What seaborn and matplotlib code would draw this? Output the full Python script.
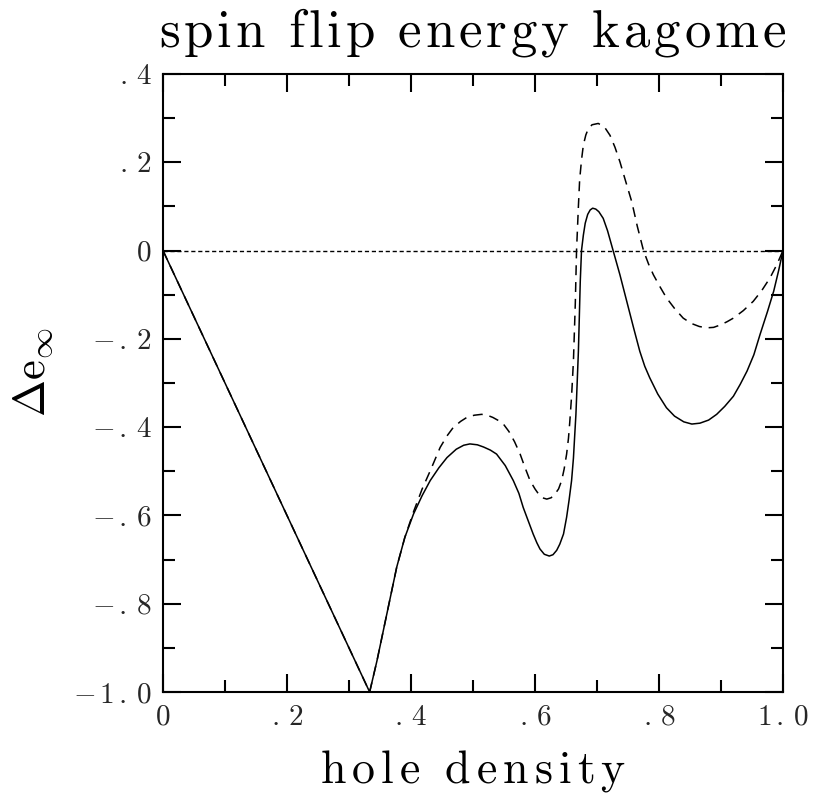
import matplotlib
matplotlib.use("Agg")
import matplotlib.pyplot as plt
import seaborn as sns
import pandas as pd
from matplotlib.ticker import MultipleLocator, FixedLocator

# ---- data ----
solid_x = [0.0, 0.3333, 0.345, 0.360, 0.377, 0.390, 0.404, 0.418, 0.431, 0.445,
           0.458, 0.473, 0.485, 0.495, 0.507, 0.517, 0.528, 0.538, 0.552, 0.565,
           0.574, 0.581, 0.589, 0.597, 0.603, 0.608, 0.615, 0.623, 0.629, 0.635,
           0.640, 0.646, 0.651, 0.655, 0.659, 0.662, 0.664, 0.666, 0.668, 0.670,
           0.6715, 0.673, 0.675, 0.678, 0.681, 0.685, 0.689, 0.693, 0.698, 0.703,
           0.710, 0.717, 0.726, 0.737, 0.748, 0.759, 0.769, 0.777, 0.785, 0.798,
           0.812, 0.825, 0.840, 0.853, 0.866, 0.880, 0.893, 0.906, 0.920, 0.931,
           0.942, 0.953, 0.963, 0.975, 0.985, 0.993, 1.0]
solid_y = [0.0, -1.0, -0.930, -0.830, -0.717, -0.650, -0.597, -0.555, -0.521, -0.492,
           -0.469, -0.450, -0.441, -0.438, -0.440, -0.445, -0.452, -0.461, -0.487, -0.521,
           -0.550, -0.582, -0.612, -0.642, -0.662, -0.676, -0.688, -0.692, -0.689, -0.679,
           -0.665, -0.642, -0.604, -0.565, -0.521, -0.470, -0.420, -0.371, -0.300, -0.228,
           -0.150, -0.070, 0.0, 0.035, 0.062, 0.082, 0.092, 0.096, 0.094, 0.088,
           0.073, 0.045, 0.0, -0.055, -0.115, -0.175, -0.228, -0.262, -0.288, -0.325,
           -0.356, -0.375, -0.388, -0.393, -0.391, -0.384, -0.371, -0.353, -0.330, -0.303,
           -0.273, -0.236, -0.190, -0.138, -0.092, -0.045, 0.0]

dash_x = [0.0, 0.3333, 0.345, 0.360, 0.377, 0.390, 0.404, 0.418, 0.431, 0.447,
          0.458, 0.468, 0.480, 0.490, 0.502, 0.514, 0.523, 0.532, 0.541, 0.549,
          0.558, 0.567, 0.576, 0.584, 0.592, 0.600, 0.606, 0.612, 0.619, 0.626,
          0.632, 0.638, 0.643, 0.647, 0.651, 0.654, 0.656, 0.659, 0.662, 0.665,
          0.667, 0.670, 0.672, 0.675, 0.678, 0.682, 0.686, 0.692, 0.702, 0.712,
          0.721, 0.729, 0.737, 0.746, 0.756, 0.765, 0.775, 0.783, 0.791, 0.802,
          0.812, 0.825, 0.839, 0.852, 0.865, 0.877, 0.888, 0.900, 0.910, 0.920,
          0.936, 0.952, 0.966, 0.979, 0.990, 1.0]
dash_y = [0.0, -1.0, -0.930, -0.830, -0.717, -0.650, -0.592, -0.540, -0.499, -0.446,
          -0.420, -0.401, -0.387, -0.378, -0.373, -0.371, -0.373, -0.378, -0.385, -0.393,
          -0.410, -0.433, -0.461, -0.492, -0.521, -0.540, -0.552, -0.560, -0.563, -0.560,
          -0.552, -0.540, -0.521, -0.495, -0.461, -0.425, -0.390, -0.330, -0.250, -0.120,
          0.0, 0.100, 0.160, 0.205, 0.239, 0.262, 0.276, 0.285, 0.288, 0.280,
          0.261, 0.234, 0.201, 0.158, 0.111, 0.055, 0.0, -0.030, -0.055, -0.083,
          -0.107, -0.131, -0.153, -0.165, -0.172, -0.175, -0.174, -0.168, -0.161, -0.153,
          -0.136, -0.115, -0.090, -0.062, -0.032, 0.0]

x_ticks = [0.0, 0.2, 0.4, 0.6, 0.8, 1.0]
x_tick_labels = ["0", ".2", ".4", ".6", ".8", "1.0"]
y_ticks = [-1.0, -0.8, -0.6, -0.4, -0.2, 0.0, 0.2, 0.4]
y_tick_labels = ["-1.0", "-.8", "-.6", "-.4", "-.2", "0", ".2", ".4"]

title = "spin flip energy kagome"
x_label = "hole density"
y_label = r"$\Delta\mathrm{e}_\infty$"

# ---- style ----
sns.set_theme(style="ticks")
plt.rcParams["mathtext.fontset"] = "cm"
plt.rcParams["font.family"] = ["cmr10", "DejaVu Serif"]
plt.rcParams["axes.formatter.use_mathtext"] = True


def spaced(s):
    return "$" + r"\,".join(list(s)) + "$"


def tracked(s, em):
    parts = [r"\ " if c == " " else c for c in s]
    return r"$\mathrm{" + (r"\hspace{%g}" % em).join(parts) + "}$"


fig = plt.figure(figsize=(8.16, 7.99), dpi=100)
ax = fig.add_axes([163 / 816, 1 - 692 / 799, 620 / 816, 618 / 799])

df_solid = pd.DataFrame({"x": solid_x, "y": solid_y})
df_dash = pd.DataFrame({"x": dash_x, "y": dash_y})

sns.lineplot(data=df_solid, x="x", y="y", sort=False, estimator=None,
             color="black", linewidth=1.1, ax=ax)
sns.lineplot(data=df_dash, x="x", y="y", sort=False, estimator=None,
             color="black", linewidth=1.1, linestyle=(0, (6.5, 4.5)), ax=ax)
ax.axhline(0, color="black", linewidth=1.0, linestyle=(0, (3, 2)), zorder=1)

ax.set_xlim(0, 1)
ax.set_ylim(-1.0, 0.4)

ax.xaxis.set_major_locator(FixedLocator(x_ticks))
ax.yaxis.set_major_locator(FixedLocator(y_ticks))
ax.xaxis.set_minor_locator(MultipleLocator(0.1))
ax.yaxis.set_minor_locator(MultipleLocator(0.1))
ax.set_xticklabels([spaced(t) for t in x_tick_labels])
ax.set_yticklabels([spaced(t) for t in y_tick_labels])

ax.tick_params(which="both", direction="in", top=True, right=True,
               width=1.5, color="black", labelsize=21)
ax.tick_params(which="major", length=13)
ax.tick_params(which="minor", length=8.5)
ax.tick_params(axis="x", pad=9)
ax.tick_params(axis="y", pad=8)

for sp in ax.spines.values():
    sp.set_linewidth(1.5)
    sp.set_color("black")

ax.set_title(tracked(title, 0.085), fontsize=38, pad=20, color="black")
ax.set_xlabel(tracked(x_label, 0.15), fontsize=33, labelpad=12, color="black")
ax.set_ylabel(y_label, fontsize=32, color="black")
ax.yaxis.set_label_coords((56 - 163) / 620, (692 - 372) / 618)

fig.savefig("out.png", dpi=100)
